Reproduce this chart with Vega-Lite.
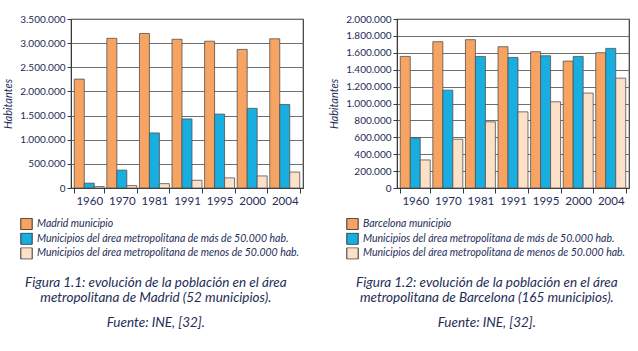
{
  "$schema": "https://vega.github.io/schema/vega-lite/v6.json",
  "padding": {"left": 2, "top": 13, "right": 5, "bottom": 5},
  "background": "white",
  "config": {
    "locale": {"number": {"decimal": ",", "thousands": ".", "grouping": [3], "currency": ["", " €"]}},
    "font": "Lato",
    "view": {"stroke": "#3a3a3a", "strokeWidth": 1.2},
    "axis": {"labelColor": "#1e2d57", "titleColor": "#1e2d57", "domainColor": "#3a3a3a", "tickColor": "#3a3a3a", "labelFont": "Lato", "titleFont": "Lato"},
    "axisY": {"gridColor": "#6e6e6e", "gridWidth": 1.2, "gridOpacity": 1, "tickSize": 4, "labelFontSize": 10, "labelPadding": 2, "titleFontStyle": "italic", "titleFontWeight": "normal", "titleFontSize": 11, "titlePadding": 6},
    "axisX": {"grid": false, "tickBand": "extent", "tickSize": 5, "labelFontSize": 11.5, "labelPadding": 2, "labelAngle": 0, "domain": true},
    "title": {"font": "Lato", "fontStyle": "italic", "fontWeight": "normal", "fontSize": 13.5, "color": "#1e2d57", "lineHeight": 15, "subtitleFont": "Lato", "subtitleFontStyle": "italic", "subtitleFontSize": 13.5, "subtitleColor": "#1e2d57", "subtitlePadding": 11},
    "legend": {"orient": "none", "title": null, "symbolType": "square", "symbolSize": 130, "clipHeight": 12, "symbolStrokeColor": "#333333", "symbolStrokeWidth": 1, "labelFont": "Lato", "labelFontStyle": "italic", "labelFontSize": 10.5, "labelColor": "#1e2d57", "labelLimit": 400, "rowPadding": 2.7}
  },
  "datasets": {
    "madrid": [
      {"year": "1960", "serie": "Madrid municipio", "value": 2255000},
      {"year": "1970", "serie": "Madrid municipio", "value": 3100000},
      {"year": "1981", "serie": "Madrid municipio", "value": 3200000},
      {"year": "1991", "serie": "Madrid municipio", "value": 3080000},
      {"year": "1995", "serie": "Madrid municipio", "value": 3040000},
      {"year": "2000", "serie": "Madrid municipio", "value": 2870000},
      {"year": "2004", "serie": "Madrid municipio", "value": 3090000},
      {"year": "1960", "serie": "Municipios del área metropolitana de más de 50.000 hab.", "value": 100000},
      {"year": "1970", "serie": "Municipios del área metropolitana de más de 50.000 hab.", "value": 370000},
      {"year": "1981", "serie": "Municipios del área metropolitana de más de 50.000 hab.", "value": 1140000},
      {"year": "1991", "serie": "Municipios del área metropolitana de más de 50.000 hab.", "value": 1430000},
      {"year": "1995", "serie": "Municipios del área metropolitana de más de 50.000 hab.", "value": 1530000},
      {"year": "2000", "serie": "Municipios del área metropolitana de más de 50.000 hab.", "value": 1650000},
      {"year": "2004", "serie": "Municipios del área metropolitana de más de 50.000 hab.", "value": 1730000},
      {"year": "1960", "serie": "Municipios del área metropolitana de menos de 50.000 hab.", "value": 30000},
      {"year": "1970", "serie": "Municipios del área metropolitana de menos de 50.000 hab.", "value": 50000},
      {"year": "1981", "serie": "Municipios del área metropolitana de menos de 50.000 hab.", "value": 90000},
      {"year": "1991", "serie": "Municipios del área metropolitana de menos de 50.000 hab.", "value": 160000},
      {"year": "1995", "serie": "Municipios del área metropolitana de menos de 50.000 hab.", "value": 210000},
      {"year": "2000", "serie": "Municipios del área metropolitana de menos de 50.000 hab.", "value": 250000},
      {"year": "2004", "serie": "Municipios del área metropolitana de menos de 50.000 hab.", "value": 330000}
    ],
    "barcelona": [
      {"year": "1960", "serie": "Barcelona municipio", "value": 1557000},
      {"year": "1970", "serie": "Barcelona municipio", "value": 1731000},
      {"year": "1981", "serie": "Barcelona municipio", "value": 1755000},
      {"year": "1991", "serie": "Barcelona municipio", "value": 1672000},
      {"year": "1995", "serie": "Barcelona municipio", "value": 1613000},
      {"year": "2000", "serie": "Barcelona municipio", "value": 1502000},
      {"year": "2004", "serie": "Barcelona municipio", "value": 1601000},
      {"year": "1960", "serie": "Municipios del área metropolitana de más de 50.000 hab.", "value": 593000},
      {"year": "1970", "serie": "Municipios del área metropolitana de más de 50.000 hab.", "value": 1158000},
      {"year": "1981", "serie": "Municipios del área metropolitana de más de 50.000 hab.", "value": 1557000},
      {"year": "1991", "serie": "Municipios del área metropolitana de más de 50.000 hab.", "value": 1545000},
      {"year": "1995", "serie": "Municipios del área metropolitana de más de 50.000 hab.", "value": 1565000},
      {"year": "2000", "serie": "Municipios del área metropolitana de más de 50.000 hab.", "value": 1557000},
      {"year": "2004", "serie": "Municipios del área metropolitana de más de 50.000 hab.", "value": 1652000},
      {"year": "1960", "serie": "Municipios del área metropolitana de menos de 50.000 hab.", "value": 332000},
      {"year": "1970", "serie": "Municipios del área metropolitana de menos de 50.000 hab.", "value": 577000},
      {"year": "1981", "serie": "Municipios del área metropolitana de menos de 50.000 hab.", "value": 783000},
      {"year": "1991", "serie": "Municipios del área metropolitana de menos de 50.000 hab.", "value": 901000},
      {"year": "1995", "serie": "Municipios del área metropolitana de menos de 50.000 hab.", "value": 1020000},
      {"year": "2000", "serie": "Municipios del área metropolitana de menos de 50.000 hab.", "value": 1123000},
      {"year": "2004", "serie": "Municipios del área metropolitana de menos de 50.000 hab.", "value": 1300000}
    ]
  },
  "spacing": 24,
  "resolve": {"scale": {"color": "independent", "y": "independent", "xOffset": "independent"}, "legend": {"color": "independent"}},
  "hconcat": [
    {
      "data": {"name": "madrid"},
      "width": 232,
      "height": 169,
      "title": {"text": ["Figura 1.1: evolución de la población en el área", "metropolitana de Madrid (52 municipios)."], "subtitle": "Fuente: INE, [32].", "orient": "bottom", "anchor": "middle", "frame": "bounds", "offset": 16, "dx": 3},
      "mark": {"type": "bar", "stroke": "#505050", "strokeWidth": 0.8},
      "encoding": {
        "x": {"field": "year", "type": "nominal", "title": null, "scale": {"paddingInner": 0.08, "paddingOuter": 0.1}},
        "xOffset": {"field": "serie", "type": "nominal", "scale": {"domain": ["Madrid municipio", "Municipios del área metropolitana de más de 50.000 hab.", "Municipios del área metropolitana de menos de 50.000 hab."]}},
        "y": {"field": "value", "type": "quantitative", "title": "Habitantes", "scale": {"domain": [0, 3500000], "nice": false}, "axis": {"format": ",d", "values": [0, 500000, 1000000, 1500000, 2000000, 2500000, 3000000, 3500000]}},
        "color": {"field": "serie", "type": "nominal", "scale": {"domain": ["Madrid municipio", "Municipios del área metropolitana de más de 50.000 hab.", "Municipios del área metropolitana de menos de 50.000 hab."], "range": ["#f7a463", "#18aee0", "#fde0c8"]}, "legend": {"legendX": -51, "legendY": 199}}
      }
    },
    {
      "data": {"name": "barcelona"},
      "width": 232,
      "height": 169,
      "title": {"text": ["Figura 1.2: evolución de la población en el área", "metropolitana de Barcelona (165 municipios)."], "subtitle": "Fuente: INE, [32].", "orient": "bottom", "anchor": "middle", "frame": "bounds", "offset": 16, "dx": 8},
      "mark": {"type": "bar", "stroke": "#505050", "strokeWidth": 0.8},
      "encoding": {
        "x": {"field": "year", "type": "nominal", "title": null, "scale": {"paddingInner": 0.08, "paddingOuter": 0.1}},
        "xOffset": {"field": "serie", "type": "nominal", "scale": {"domain": ["Barcelona municipio", "Municipios del área metropolitana de más de 50.000 hab.", "Municipios del área metropolitana de menos de 50.000 hab."]}},
        "y": {"field": "value", "type": "quantitative", "title": "Habitantes", "scale": {"domain": [0, 2000000], "nice": false}, "axis": {"format": ",d", "values": [0, 200000, 400000, 600000, 800000, 1000000, 1200000, 1400000, 1600000, 1800000, 2000000]}},
        "color": {"field": "serie", "type": "nominal", "scale": {"domain": ["Barcelona municipio", "Municipios del área metropolitana de más de 50.000 hab.", "Municipios del área metropolitana de menos de 50.000 hab."], "range": ["#f7a463", "#18aee0", "#fde0c8"]}, "legend": {"legendX": -51, "legendY": 199}}
      }
    }
  ]
}
